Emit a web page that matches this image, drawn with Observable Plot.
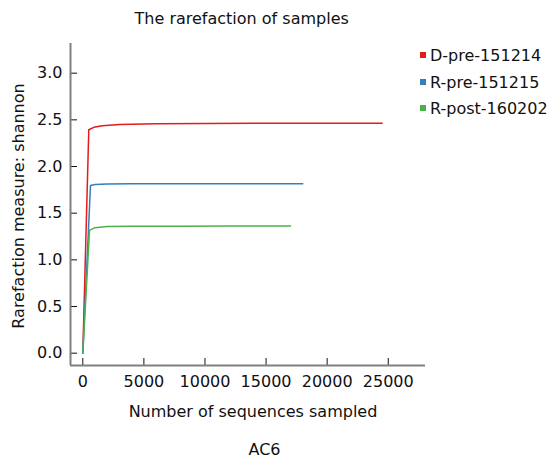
<!DOCTYPE html>
<html><head><meta charset="utf-8">
<script src="https://cdn.jsdelivr.net/npm/d3@7"></script>
<script src="https://cdn.jsdelivr.net/npm/@observablehq/plot@0.6"></script>
<style>
body{margin:0;background:#fff;font-family:"DejaVu Sans",sans-serif;}
#wrap{position:relative;width:555px;height:461px;overflow:hidden;}
#wrap svg{position:absolute;left:0;top:0;}
.t{position:absolute;font-size:16px;line-height:16px;color:#111;white-space:nowrap;text-align:center;}
#legend{position:absolute;left:420px;top:43px;font-size:16px;line-height:26.5px;color:#111;white-space:nowrap;}
#legend .sw{display:inline-block;width:6px;height:6px;margin-right:4px;vertical-align:3px;}
</style></head><body>
<div id="wrap"></div>
<script>
const titleText = "The rarefaction of samples";
const xLabel = "Number of sequences sampled";
const yLabel = "Rarefaction measure: shannon";
const caption = "AC6";
const sampleNames = ["D-pre-151214", "R-pre-151215", "R-post-160202"];
const sampleColors = ["#e41a1c", "#377eb8", "#4daf4a"];
const xTicks = [0, 5000, 10000, 15000, 20000, 25000];
const yTicks = [0.0, 0.5, 1.0, 1.5, 2.0, 2.5, 3.0];
const xDomain = [-1007, 28050];
const yDomain = [-0.132, 3.318];

const depthD = [0, 490, 900, 1600, 3000, 6000, 10000, 15000, 20000, 24500];
const shannonD = [0.0, 2.394, 2.42, 2.437, 2.45, 2.458, 2.462, 2.464, 2.464, 2.464];
const depthRpre = [0, 630, 1000, 2000, 4000, 8000, 12000, 16000, 18000];
const shannonRpre = [0.0, 1.797, 1.808, 1.813, 1.815, 1.815, 1.816, 1.816, 1.816];
const depthRpost = [0, 550, 1000, 2000, 4000, 8000, 12000, 17000];
const shannonRpost = [0.0, 1.315, 1.345, 1.356, 1.36, 1.361, 1.362, 1.362];

const series = [[depthD, shannonD], [depthRpre, shannonRpre], [depthRpost, shannonRpost]];
const rows = series.flatMap(([xs, ys], i) => xs.map((x, j) => ({sample: sampleNames[i], depth: x, shannon: ys[j]})));

const chart = Plot.plot({
  width: 555, height: 461,
  marginLeft: 70, marginRight: 130, marginTop: 43, marginBottom: 96,
  style: {fontFamily: "DejaVu Sans", fontSize: "16px", color: "#111", background: "white"},
  x: {domain: xDomain},
  y: {domain: yDomain},
  color: {domain: sampleNames, range: sampleColors},
  marks: [
    Plot.axisX({ticks: xTicks, tickSize: -7, tickPadding: 17, label: null, tickFormat: d3.format("d")}),
    Plot.axisY({ticks: yTicks, tickSize: -7, tickPadding: 15, label: null, tickFormat: d3.format(".1f")}),
    Plot.ruleX([xDomain[0]], {stroke: "#808080", strokeWidth: 2}),
    Plot.ruleY([yDomain[0]], {stroke: "#808080", strokeWidth: 2}),
    Plot.line(rows, {x: "depth", y: "shannon", z: "sample", stroke: "sample", strokeWidth: 1.5})
  ]
});
const wrap = document.getElementById("wrap");
wrap.appendChild(chart);

function addText(txt, left, top, width, extra) {
  const d = document.createElement("div");
  d.className = "t";
  d.textContent = txt;
  d.style.left = left + "px"; d.style.top = top + "px"; d.style.width = width + "px";
  if (extra) Object.assign(d.style, extra);
  wrap.appendChild(d);
}
addText(titleText, 0, 10.5, 483.4);
addText(xLabel, 0, 403.5, 506);
addText(caption, 0, 441.5, 529);
addText(yLabel, 18.85 - 150, 206 - 8, 300, {transform: "rotate(-90deg)"});

const leg = document.createElement("div");
leg.id = "legend";
sampleNames.forEach((n, i) => {
  const r = document.createElement("div");
  const sw = document.createElement("span");
  sw.className = "sw"; sw.style.background = sampleColors[i];
  r.appendChild(sw);
  r.appendChild(document.createTextNode(n));
  leg.appendChild(r);
});
wrap.appendChild(leg);
</script>
</body></html>
